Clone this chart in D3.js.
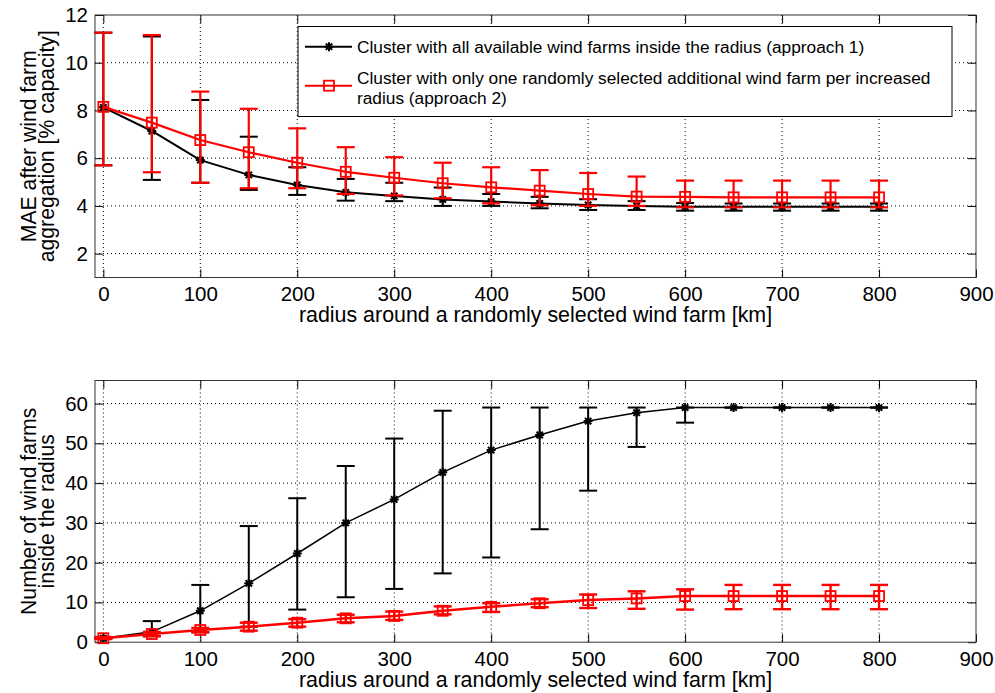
<!DOCTYPE html>
<html><head><meta charset="utf-8">
<script src="https://cdn.jsdelivr.net/npm/d3@7"></script>
<style>
html,body{margin:0;padding:0;background:#fff;}
svg{display:block;}
text{font-family:"Liberation Sans",Arial,sans-serif;fill:#000;}
</style></head>
<body>
<svg id="c" width="995" height="693"></svg>
<script>
// ---- data ----
const radius = [0,50,100,150,200,250,300,350,400,450,500,550,600,650,700,750,800];
const xTicks = [0,100,200,300,400,500,600,700,800,900];
const maeTicks = [2,4,6,8,10,12];
const countTicks = [0,10,20,30,40,50,60];

// top: MAE after aggregation
const maeA1      = [8.13,7.14,5.92,5.30,4.88,4.57,4.42,4.27,4.18,4.10,4.04,4.00,3.96,3.96,3.96,3.96,3.96];
const maeA1Upper = [11.26,11.10,8.44,6.90,5.62,5.13,4.97,4.77,4.50,4.38,4.28,4.20,4.12,4.10,4.10,4.10,4.10];
const maeA1Lower = [5.70,5.09,4.97,4.67,4.46,4.22,4.20,4.00,4.00,3.90,3.83,3.83,3.80,3.80,3.80,3.80,3.80];
const maeA2      = [8.15,7.49,6.76,6.25,5.81,5.43,5.18,4.95,4.78,4.64,4.50,4.39,4.38,4.36,4.36,4.36,4.36];
const maeA2Upper = [11.26,11.16,8.79,8.07,7.25,6.46,6.04,5.81,5.62,5.50,5.38,5.23,5.06,5.06,5.06,5.06,5.06];
const maeA2Lower = [5.70,5.41,4.97,4.74,4.74,4.50,4.44,4.32,4.11,4.03,4.00,4.00,3.94,3.94,3.94,3.94,3.94];

// bottom: number of wind farms
const cntA1      = [1,2.6,7.9,14.8,22.3,30.0,35.9,42.7,48.3,52.1,55.6,57.7,59.0,59.0,59.0,59.0,59.0];
const cntA1Upper = [1,5.3,14.4,29.2,36.2,44.3,51.2,58.2,59.0,59.0,59.0,59.0,59.0,59.0,59.0,59.0,59.0];
const cntA1Lower = [1,1.5,2.5,3.9,8.2,11.3,13.4,17.3,21.3,28.4,38.1,49.1,55.2,59.0,59.0,59.0,59.0];
const cntA2      = [1,2.06,3.07,3.9,4.9,6.0,6.6,7.9,8.9,9.8,10.6,11.0,11.6,11.6,11.6,11.6,11.6];
const cntA2Upper = [1.3,2.6,3.6,4.9,5.8,6.9,7.7,9.0,9.8,10.8,12.0,12.8,13.3,14.4,14.4,14.4,14.4];
const cntA2Lower = [0.8,1.5,2.5,2.9,3.9,5.0,5.6,7.0,7.6,8.8,8.6,8.4,8.2,8.3,8.3,8.3,8.3];

const legendLabels = [
  ["Cluster with all available wind farms inside the radius (approach 1)"],
  ["Cluster with only one randomly selected additional wind farm per increased","radius (approach 2)"]
];
const xLabel = "radius around a randomly selected wind farm [km]";
const yLabelTop = ["MAE after wind farm","aggregation [% capacity]"];
const yLabelBottom = ["Number of wind farms","inside the radius"];

// ---- drawing ----
const svg = d3.select("#c");
const L = 95, R = 976;
const x = d3.scaleLinear().domain([-8.6,900]).range([L,R]);

function panel(top, bottom, yDomain, yTicks, series, yLabel) {
  const y = d3.scaleLinear().domain(yDomain).range([bottom, top]);
  const g = svg.append("g");
  g.append("rect").attr("x",L).attr("y",top).attr("width",R-L).attr("height",bottom-top).attr("fill","#fff");
  // grid
  g.append("g").selectAll("line").data(xTicks.filter(d=>d<900)).join("line")
    .attr("x1",d=>x(d)).attr("x2",d=>x(d)).attr("y1",top).attr("y2",bottom)
    .attr("stroke","#000").attr("stroke-width",1).attr("stroke-dasharray","1,3");
  g.append("g").selectAll("line").data(yTicks.filter(d=>y(d)>top+1 && y(d)<bottom-1)).join("line")
    .attr("x1",L).attr("x2",R).attr("y1",d=>y(d)).attr("y2",d=>y(d))
    .attr("stroke","#000").attr("stroke-width",1).attr("stroke-dasharray","1,3");
  // axes
  const ax = g.append("g").attr("transform",`translate(0,${bottom})`)
    .call(d3.axisBottom(x).tickValues(xTicks).tickSize(-8).tickPadding(9));
  const axT = g.append("g").attr("transform",`translate(0,${top})`)
    .call(d3.axisTop(x).tickValues(xTicks).tickSize(-8).tickFormat(""));
  const ay = g.append("g").attr("transform",`translate(${L},0)`)
    .call(d3.axisLeft(y).tickValues(yTicks).tickSize(-8).tickPadding(7));
  const ayR = g.append("g").attr("transform",`translate(${R},0)`)
    .call(d3.axisRight(y).tickValues(yTicks).tickSize(-8).tickFormat(""));
  [ax,axT,ay,ayR].forEach(a=>{
    a.select(".domain").remove();
    a.selectAll("line").attr("stroke","#000");
    a.selectAll("text").attr("font-size",20.5).attr("font-family","Liberation Sans, Arial, sans-serif").attr("fill","#000");
  });
  g.append("rect").attr("x",L).attr("y",top).attr("width",R-L).attr("height",bottom-top)
    .attr("fill","none").attr("stroke","#333").attr("stroke-width",1);
  // x label
  g.append("text").attr("x",(L+R)/2).attr("y",bottom+44.5).attr("text-anchor","middle")
    .attr("font-size",21.4).text(xLabel);
  // y label
  const cy = (top+bottom)/2;
  yLabel.forEach((t,i)=>{
    g.append("text").attr("transform",`translate(${i===0?35.5:54},${cy}) rotate(-90)`)
      .attr("text-anchor","middle").attr("font-size",21.2).text(t);
  });
  // series
  series.forEach(s=>{
    const sg = g.append("g");
    const cap = 9;
    radius.forEach((r,i)=>{
      const xx = x(r);
      sg.append("line").attr("x1",xx).attr("x2",xx).attr("y1",y(s.lo[i])).attr("y2",y(s.hi[i]))
        .attr("stroke",s.color).attr("stroke-width",s.ebw);
      [s.lo[i],s.hi[i]].forEach(v=>{
        sg.append("line").attr("x1",xx-cap).attr("x2",xx+cap).attr("y1",y(v)).attr("y2",y(v))
          .attr("stroke",s.color).attr("stroke-width",s.ebw);
      });
    });
    const line = d3.line().x((d,i)=>x(radius[i])).y(d=>y(d));
    sg.append("path").attr("d",line(s.mean)).attr("fill","none").attr("stroke",s.color)
      .attr("stroke-width",s.lw).attr("stroke-linejoin","round");
    radius.forEach((r,i)=>drawMarker(sg, s.marker, x(r), y(s.mean[i]), s.color));
  });
}

function drawMarker(sel, type, cx, cy, color) {
  if (type === "star") {
    const a = 4.5, b = 3.2;
    sel.append("path").attr("d",`M${cx-a},${cy}H${cx+a}M${cx},${cy-a}V${cy+a}M${cx-b},${cy-b}L${cx+b},${cy+b}M${cx-b},${cy+b}L${cx+b},${cy-b}`)
      .attr("stroke",color).attr("stroke-width",2).attr("fill","none");
  } else {
    const h = 5;
    sel.append("rect").attr("x",cx-h).attr("y",cy-h).attr("width",2*h).attr("height",2*h)
      .attr("fill","none").attr("stroke",color).attr("stroke-width",1.8);
  }
}

panel(15, 277.5, [1,12], maeTicks, [
  {mean:maeA1, hi:maeA1Upper, lo:maeA1Lower, color:"#000", lw:2, ebw:2, marker:"star"},
  {mean:maeA2, hi:maeA2Upper, lo:maeA2Lower, color:"#ff0000", lw:2.2, ebw:2.2, marker:"square"}
], yLabelTop);

panel(380.5, 642.2, [0,65.8], countTicks, [
  {mean:cntA1, hi:cntA1Upper, lo:cntA1Lower, color:"#000", lw:1.5, ebw:2, marker:"star"},
  {mean:cntA2, hi:cntA2Upper, lo:cntA2Lower, color:"#ff0000", lw:2.5, ebw:2.4, marker:"square"}
], yLabelBottom);

// legend
const lg = svg.append("g");
lg.append("rect").attr("x",298).attr("y",26.5).attr("width",654).attr("height",90)
  .attr("fill","#fff").attr("stroke","#000").attr("stroke-width",1);
const legendRows = [{y:46.7, color:"#000", marker:"star", lw:2, ty:[52.5]},
                    {y:85.7, color:"#ff0000", marker:"square", lw:2, ty:[84,104]}];
legendRows.forEach((row,k)=>{
  lg.append("line").attr("x1",305).attr("x2",352).attr("y1",row.y).attr("y2",row.y)
    .attr("stroke",row.color).attr("stroke-width",row.lw);
  drawMarker(lg,row.marker,329,row.y,row.color);
  legendLabels[k].forEach((t,j)=>{
    lg.append("text").attr("x",357).attr("y",row.ty[j]).attr("font-size",17.3).text(t);
  });
});
</script>
</body></html>
